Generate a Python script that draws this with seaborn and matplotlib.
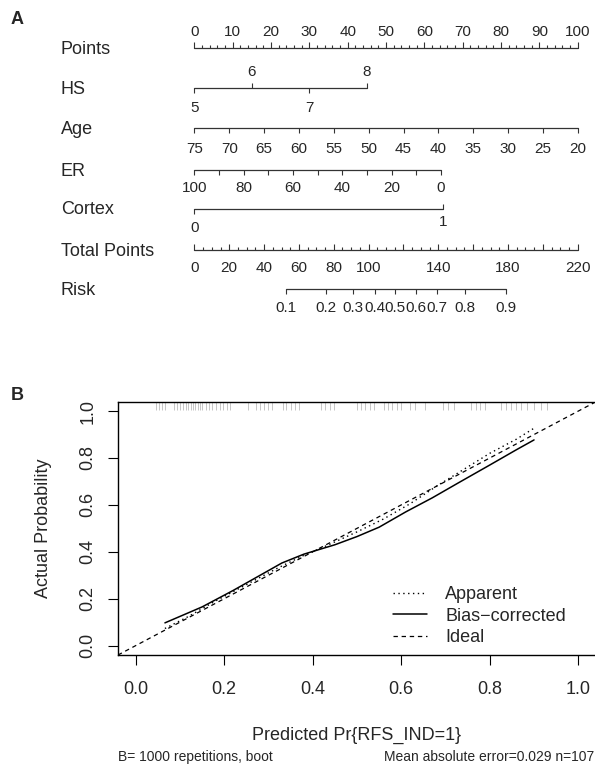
import numpy as np
import pandas as pd
import matplotlib
matplotlib.use("Agg")
import matplotlib.pyplot as plt
import seaborn as sns

# ---- Panel A: nomogram scales (value -> points on the 0-100 scale) ----
points_ticks = list(range(0, 101, 2))
points_labels = list(range(0, 101, 10))

hs_levels = [5, 6, 7, 8]
hs_points = [0, 15, 30, 45]

age_values = [75, 70, 65, 60, 55, 50, 45, 40, 35, 30, 25, 20]
age_points = [0, 9.09, 18.18, 27.27, 36.36, 45.45, 54.55, 63.64, 72.73, 81.82, 90.91, 100]

er_values = [100, 90, 80, 70, 60, 50, 40, 30, 20, 10, 0]
er_points = [0, 6.43, 12.86, 19.29, 25.72, 32.15, 38.58, 45.01, 51.44, 57.87, 64.3]
er_labelled = [100, 80, 60, 40, 20, 0]

cortex_levels = [0, 1]
cortex_points = [0, 64.9]

total_ticks = list(range(0, 221, 5))
total_labels = [0, 20, 40, 60, 80, 100, 140, 180, 220]

risk_values = [0.1, 0.2, 0.3, 0.4, 0.5, 0.6, 0.7, 0.8, 0.9]
risk_total = [52.5, 75.6, 91.0, 103.8, 115.2, 127.3, 139.4, 155.2, 178.7]

# ---- Panel B: calibration curve ----
apparent_x = [0.066, 0.12, 0.18, 0.25, 0.32, 0.38, 0.43, 0.50, 0.56, 0.62, 0.68, 0.74, 0.80, 0.86, 0.90]
apparent_y = [0.073, 0.125, 0.19, 0.26, 0.33, 0.385, 0.425, 0.485, 0.54, 0.605, 0.68, 0.75, 0.82, 0.88, 0.927]
bias_x = [0.066, 0.15, 0.22, 0.30, 0.33, 0.38, 0.45, 0.50, 0.55, 0.61, 0.67, 0.73, 0.80, 0.86, 0.90]
bias_y = [0.097, 0.165, 0.235, 0.32, 0.352, 0.39, 0.43, 0.465, 0.505, 0.57, 0.63, 0.695, 0.77, 0.835, 0.877]
rug_pred = [0.046, 0.052, 0.059, 0.067, 0.087, 0.093, 0.101, 0.107, 0.113, 0.118, 0.124, 0.130,
            0.135, 0.140, 0.145, 0.150, 0.158, 0.165, 0.173, 0.181, 0.190, 0.198, 0.207, 0.213,
            0.253, 0.272, 0.281, 0.290, 0.298, 0.307, 0.332, 0.340, 0.350, 0.359, 0.370, 0.419,
            0.428, 0.438, 0.448, 0.499, 0.509, 0.518, 0.529, 0.539, 0.560, 0.569, 0.580, 0.590,
            0.600, 0.620, 0.630, 0.654, 0.694, 0.706, 0.719, 0.757, 0.768, 0.779, 0.789, 0.825,
            0.836, 0.847, 0.859, 0.870, 0.885, 0.900, 0.915, 0.930]

sns.set_style("white")
plt.rcParams['font.family'] = ['Liberation Sans', 'DejaVu Sans']

W, H = 595, 764
fig = plt.figure(figsize=(W / 100, H / 100), dpi=100)

ink = "#333333"
lab_fs = 13
tick_fs = 11

# ---------------- Panel A ----------------
axA = fig.add_axes([0, 1 - 340 / H, 1, 340 / H])
axA.set_xlim(-50.7, 104.5)
axA.set_ylim(340, 0)
axA.axis('off')

rows = {"Points": 48.3, "HS": 88.3, "Age": 128.3, "ER": 170, "Cortex": 209,
        "Total Points": 250, "Risk": 289.3}
for name, yy in rows.items():
    axA.text(-34.8, yy + 1, name, fontsize=lab_fs, ha='left', va='center')


def scale_line(pos, y):
    sns.lineplot(x=[min(pos), max(pos)], y=[y, y], ax=axA, color=ink, lw=0.9,
                 estimator=None, sort=False)


# Points
y = rows["Points"]
scale_line(points_ticks, y)
for p in points_ticks:
    ln = 6.5 if p in points_labels else 3.3
    axA.vlines(p, y - ln, y, color=ink, lw=0.8)
for p in points_labels:
    axA.text(p, y - 16.5, str(p), fontsize=tick_fs, ha='center', va='center')

# HS (labels alternate above / below)
y = rows["HS"]
scale_line(hs_points, y)
for i, (lv, p) in enumerate(zip(hs_levels, hs_points)):
    if i % 2 == 1:
        axA.vlines(p, y - 5, y, color=ink, lw=0.8)
        axA.text(p, y - 16.5, str(lv), fontsize=tick_fs, ha='center', va='center')
    else:
        axA.vlines(p, y, y + 5, color=ink, lw=0.8)
        axA.text(p, y + 20, str(lv), fontsize=tick_fs, ha='center', va='center')

# Age
y = rows["Age"]
scale_line(age_points, y)
for v, p in zip(age_values, age_points):
    axA.vlines(p, y, y + 5, color=ink, lw=0.8)
    axA.text(p, y + 21, str(v), fontsize=tick_fs, ha='center', va='center')

# ER
y = rows["ER"]
scale_line(er_points, y)
for v, p in zip(er_values, er_points):
    axA.vlines(p, y, y + 5, color=ink, lw=0.8)
    if v in er_labelled:
        axA.text(p, y + 18.5, str(v), fontsize=tick_fs, ha='center', va='center')

# Cortex
y = rows["Cortex"]
scale_line(cortex_points, y)
axA.vlines(cortex_points[0], y, y + 5, color=ink, lw=0.8)
axA.vlines(cortex_points[1], y - 5, y, color=ink, lw=0.8)
axA.text(cortex_points[0], y + 19.5, str(cortex_levels[0]), fontsize=tick_fs, ha='center', va='center')
axA.text(cortex_points[1], y + 13, str(cortex_levels[1]), fontsize=tick_fs, ha='center', va='center')

# Total Points
y = rows["Total Points"]
tot_scale = 100 / max(total_ticks)
tp = [t * tot_scale for t in total_ticks]
scale_line(tp, y)
for t in total_ticks:
    ln = 6.5 if t % 20 == 0 else 3.3
    axA.vlines(t * tot_scale, y - ln, y, color=ink, lw=0.8)
for t in total_labels:
    axA.text(t * tot_scale, y + 18.5, str(t), fontsize=tick_fs, ha='center', va='center')

# Risk
y = rows["Risk"]
rp = [t * tot_scale for t in risk_total]
scale_line(rp, y)
for r, p in zip(risk_values, rp):
    axA.vlines(p, y, y + 5, color=ink, lw=0.8)
    axA.text(p, y + 19, f"{r:.1f}", fontsize=tick_fs, ha='center', va='center')

fig.text(17 / W, 1 - 20 / H, "A", fontsize=13, fontweight='bold', ha='center', va='center')

# ---------------- Panel B ----------------
left, right, top, bottom = 118, 596, 401.7, 655
axB = fig.add_axes([left / W, 1 - bottom / H, (right - left) / W, (bottom - top) / H])
axB.set_xlim(-0.04, 1.04)
axB.set_ylim(-0.04, 1.04)

calib = pd.DataFrame({"x": apparent_x, "y": apparent_y})
bias = pd.DataFrame({"x": bias_x, "y": bias_y})
sns.lineplot(data=calib, x="x", y="y", ax=axB, color="black", lw=1.0,
             linestyle=(0, (1, 2.5)), estimator=None, sort=False)
sns.lineplot(data=bias, x="x", y="y", ax=axB, color="black", lw=1.1,
             estimator=None, sort=False)
axB.axline((0, 0), slope=1, color="black", lw=0.9, linestyle=(0, (3.5, 3)))
app_line, bias_line, ideal_line = axB.get_lines()[:3]

axB.vlines(rug_pred, 0.968, 1.0, transform=axB.get_xaxis_transform(),
           color="#bdbdbd", lw=0.6)

for sp in axB.spines.values():
    sp.set_color("black")
    sp.set_linewidth(1.0)

axB.set_xticks([0.0, 0.2, 0.4, 0.6, 0.8, 1.0])
axB.set_yticks([0.0, 0.2, 0.4, 0.6, 0.8, 1.0])
axB.set_xticklabels(["0.0", "0.2", "0.4", "0.6", "0.8", "1.0"])
axB.set_yticklabels(["0.0", "0.2", "0.4", "0.6", "0.8", "1.0"])
axB.tick_params(axis='both', direction='out', length=7.5, width=0.8, color="black",
                labelsize=lab_fs, bottom=True, left=True)
axB.tick_params(axis='x', pad=11)
axB.tick_params(axis='y', pad=8, labelrotation=90)
for t in axB.get_yticklabels():
    t.set_va('center')

axB.set_xlabel("Predicted Pr{RFS_IND=1}", fontsize=lab_fs, va='center')
axB.xaxis.set_label_coords(0.5, (bottom - 735) / (bottom - top))
axB.set_ylabel("Actual Probability", fontsize=lab_fs, va='center')
axB.yaxis.set_label_coords((43 - left) / (right - left), 0.5)

axB.legend([app_line, bias_line, ideal_line], ["Apparent", "Bias\u2212corrected", "Ideal"],
           loc='upper left', bbox_to_anchor=(393 / W, 1 - 586 / H),
           bbox_transform=fig.transFigure, frameon=False, fontsize=lab_fs,
           handlelength=1.9, handletextpad=1.0, labelspacing=0.25,
           borderpad=0, borderaxespad=0)

fig.text(17 / W, 1 - 395 / H, "B", fontsize=13, fontweight='bold', ha='center', va='center')
fig.text(left / W, 1 - 757 / H, "B= 1000 repetitions, boot", fontsize=10,
         ha='left', va='center')
fig.text(594 / W, 1 - 757 / H, "Mean absolute error=0.029 n=107", fontsize=10,
         ha='right', va='center')

fig.savefig("out.png", dpi=100)
